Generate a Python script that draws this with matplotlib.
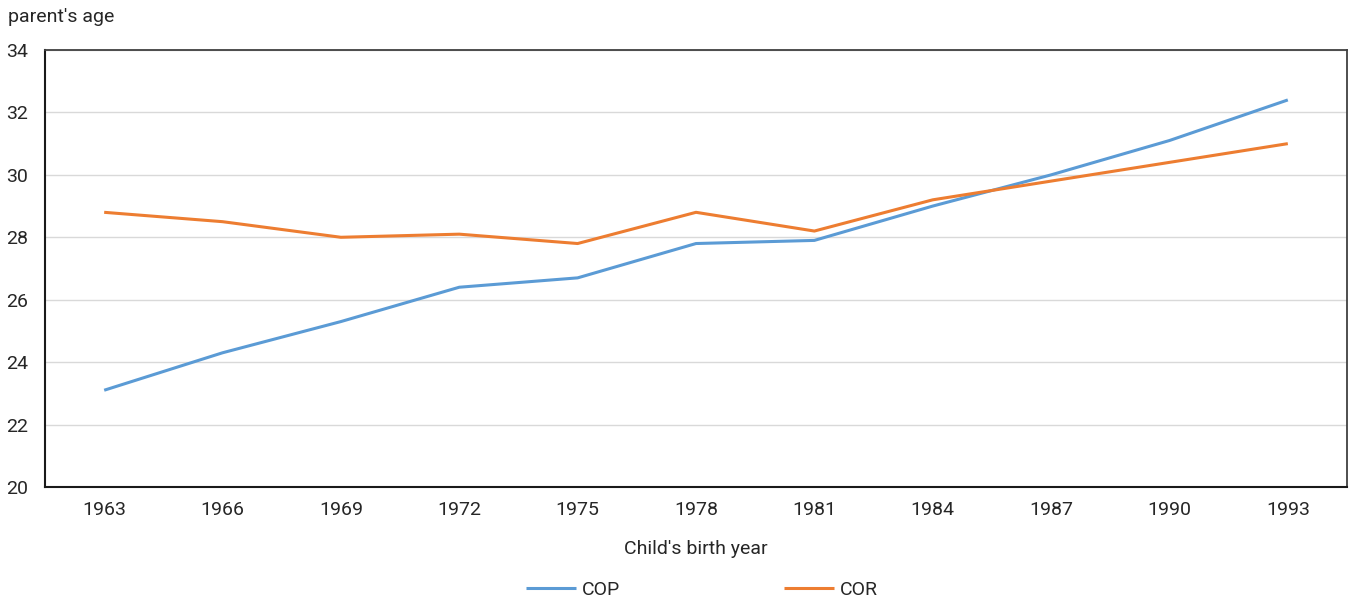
import matplotlib
matplotlib.use("Agg")
import matplotlib.pyplot as plt
from matplotlib import font_manager

years = ["1963", "1966", "1969", "1972", "1975", "1978", "1981", "1984", "1987", "1990", "1993"]
cop = [23.1, 24.3, 25.3, 26.4, 26.7, 27.8, 27.9, 29.0, 30.0, 31.1, 32.4]
cor = [28.8, 28.5, 28.0, 28.1, 27.8, 28.8, 28.2, 29.2, 29.8, 30.4, 31.0]
yticks = [20, 22, 24, 26, 28, 30, 32, 34]

available = {f.name for f in font_manager.fontManager.ttflist}
family = [f for f in ["Roboto", "DejaVu Sans"] if f in available]
plt.rcParams["font.family"] = family

W, H = 1351, 603
fig = plt.figure(figsize=(W / 100, H / 100), dpi=100)
ax = fig.add_axes([45 / W, (H - 487) / H, 1302 / W, 437 / H])

x = list(range(len(years)))
ax.plot(x, cop, color="#5b9bd5", lw=2.2, label="COP", solid_capstyle="butt")
ax.plot(x, cor, color="#ed7d31", lw=2.2, label="COR", solid_capstyle="butt")

ax.set_xlim(-0.5, len(years) - 0.5)
ax.set_ylim(20, 34)
ax.set_yticks(yticks)
ax.set_xticks(x)
ax.set_xticklabels(years)
ax.grid(axis="y", color="#d9d9d9", lw=1)
ax.set_axisbelow(True)
for side in ("top", "right"):
    ax.spines[side].set_color("#404040")
    ax.spines[side].set_linewidth(1.3)
for side in ("left", "bottom"):
    ax.spines[side].set_color("#1a1a1a")
    ax.spines[side].set_linewidth(1.5)
ax.tick_params(length=0, labelsize=14, colors="#262626", pad=10)
ax.tick_params(axis="y", pad=12)

ax.set_xlabel("Child's birth year", fontsize=14, color="#262626", labelpad=15)
fig.text(8 / W, 1 - 17 / H, "parent's age", fontsize=14, color="#262626", va="center", ha="left")

fig.legend(loc="center", bbox_to_anchor=(702 / W, 1 - 590 / H), ncol=2, frameon=False,
           fontsize=14, handlelength=2.6, handletextpad=0.3, columnspacing=8.4,
           labelcolor="#262626")

fig.savefig("out.png", dpi=100)
